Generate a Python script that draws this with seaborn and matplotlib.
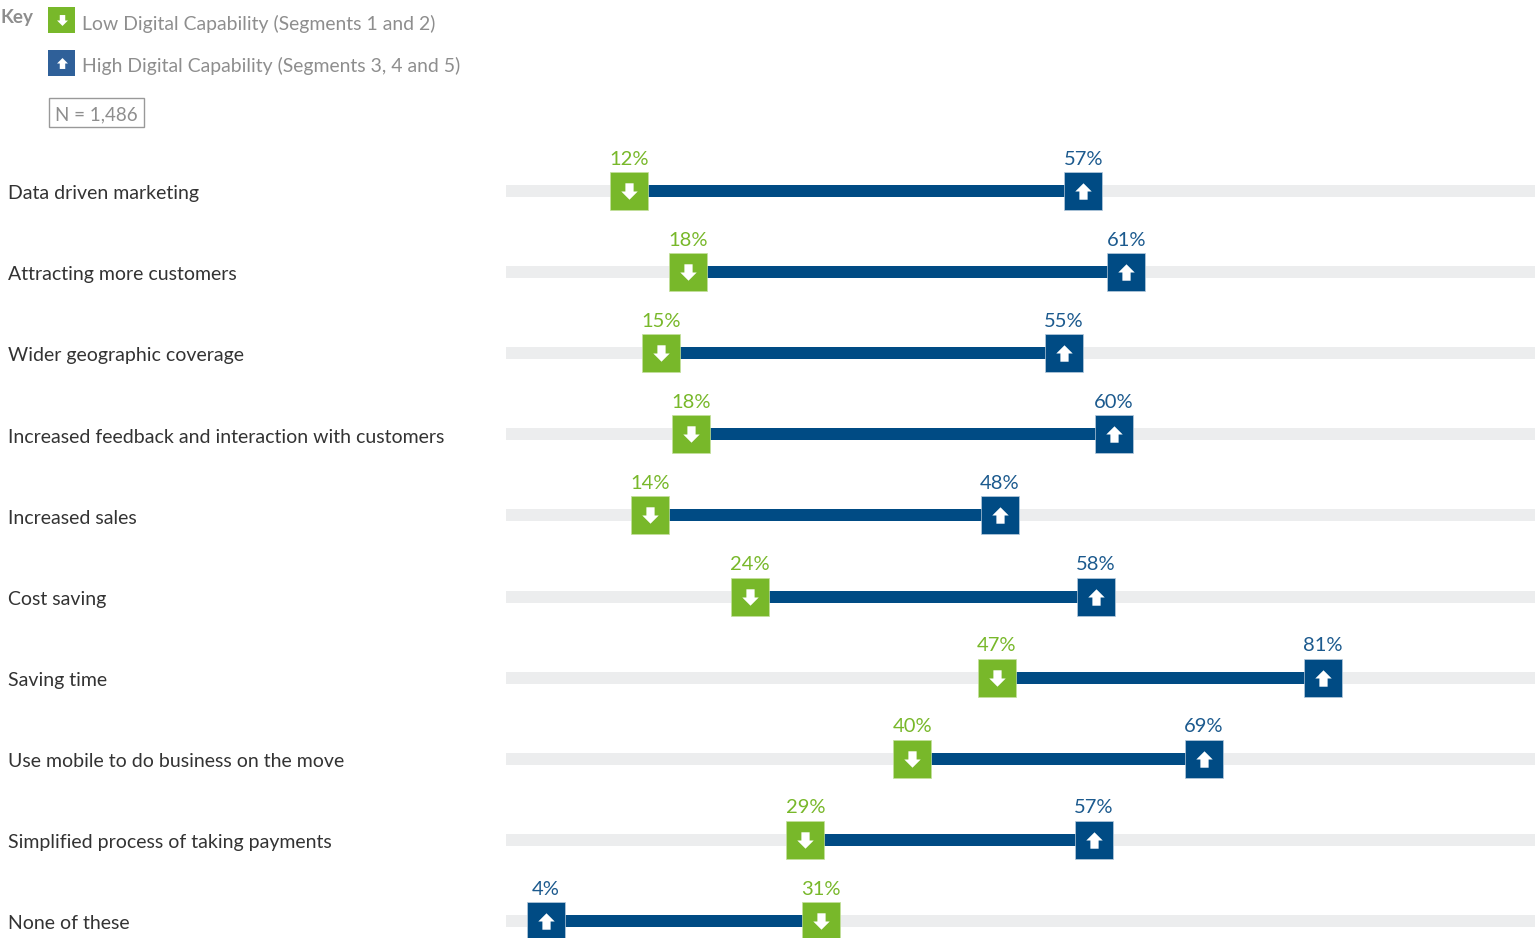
import matplotlib
matplotlib.use("Agg")
import matplotlib.pyplot as plt
import numpy as np
import pandas as pd
import seaborn as sns
from matplotlib.path import Path
from matplotlib.patches import Rectangle

# Data
categories = [
    "Data driven marketing",
    "Attracting more customers",
    "Wider geographic coverage",
    "Increased feedback and interaction with customers",
    "Increased sales",
    "Cost saving",
    "Saving time",
    "Use mobile to do business on the move",
    "Simplified process of taking payments",
    "None of these",
]
# the drawn positions do not sit on one exact scale, so they are kept apart from the printed labels
low_values = [12.0, 17.7, 15.1, 18.0, 14.0, 23.7, 47.7, 39.5, 29.1, 30.6]
high_values = [56.1, 60.3, 54.2, 59.1, 48.0, 57.3, 79.4, 67.8, 57.1, 3.9]
low_labels = ["12%", "18%", "15%", "18%", "14%", "24%", "47%", "40%", "29%", "31%"]
high_labels = ["57%", "61%", "55%", "60%", "48%", "58%", "81%", "69%", "57%", "4%"]
key_labels = ["Low Digital Capability (Segments 1 and 2)", "High Digital Capability (Segments 3, 4 and 5)"]
sample_label = "N = 1,486"

GREEN = "#78B82A"
NAVY = "#004B84"
TRACK = "#ECEDEE"
KEY_BLUE = "#2F6099"
GREY = "#8E8E8E"
TEXT = "#333333"

sns.set_style("white")
plt.rcParams["font.family"] = ["Lato", "DejaVu Sans"]

df = pd.DataFrame({"category": categories, "low": low_values, "high": high_values})
df["left"] = df[["low", "high"]].min(axis=1)
df["right"] = df[["low", "high"]].max(axis=1)
df["track"] = 100

fig = plt.figure(figsize=(15.35, 9.38), dpi=100)
ax = fig.add_axes([0, 0, 1, 1])

# track, then the navy span, then the track again up to the left end
sns.barplot(data=df, x="track", y="category", color=TRACK, saturation=1, width=0.148, linewidth=0, ax=ax)
sns.barplot(data=df, x="right", y="category", color=NAVY, saturation=1, width=0.148, linewidth=0, ax=ax)
sns.barplot(data=df, x="left", y="category", color=TRACK, saturation=1, width=0.148, linewidth=0, ax=ax)

# Arrow shapes for the markers
up_arrow = Path([(0, 1), (1, 0), (0.5, 0), (0.5, -1), (-0.5, -1), (-0.5, 0), (-1, 0), (0, 1)], closed=True)
down_arrow = Path([(0, -1), (1, 0), (0.5, 0), (0.5, 1), (-0.5, 1), (-0.5, 0), (-1, 0), (0, -1)], closed=True)

sns.scatterplot(data=df, x="low", y="category", marker="s", s=740, color=GREEN, edgecolor="#C4E09E",
                linewidth=0.5, zorder=5, ax=ax)
sns.scatterplot(data=df, x="high", y="category", marker="s", s=740, color=NAVY, edgecolor="#B8CCDD",
                linewidth=0.5, zorder=5, ax=ax)
sns.scatterplot(data=df, x="low", y="category", marker=down_arrow, s=140, color="white", linewidth=0,
                zorder=6, ax=ax)
sns.scatterplot(data=df, x="high", y="category", marker=up_arrow, s=140, color="white", linewidth=0,
                zorder=6, ax=ax)

# 0 sits at pixel 506 and 100 at the right edge; rows start at y 191 with 81.11 px spacing
ax.set_xlim(-506 / 10.29, 100)
ax.set_ylim((938 - 191) / 81.11, -191 / 81.11)
ax.axis("off")

for i, cat in enumerate(categories):
    ax.annotate(low_labels[i], (low_values[i], i), xytext=(0, 23), textcoords="offset points",
                ha="center", va="center", color=GREEN, fontsize=14.5, zorder=7)
    ax.annotate(high_labels[i], (high_values[i], i), xytext=(0, 23), textcoords="offset points",
                ha="center", va="center", color="#1C5A8E", fontsize=14.5, zorder=7)
    ax.annotate(cat, (-506 / 10.29, i), xytext=(5.8, -2), textcoords="offset points",
                ha="left", va="center", color=TEXT, fontsize=14.05)

# Key in pixel coordinates
key = fig.add_axes([0, 0, 1, 1], facecolor="none")
key.set_xlim(0, 1535)
key.set_ylim(938, 0)
key.axis("off")

key.text(0, 17, "Key", color=GREY, fontsize=13.6, fontweight="bold", va="center")
key.add_patch(Rectangle((48, 7), 27, 26, facecolor=GREEN, edgecolor="none"))
key.add_patch(Rectangle((48, 50), 27, 26, facecolor=KEY_BLUE, edgecolor="none"))
key.scatter([61.5], [20], marker=down_arrow, s=62, color="white", linewidths=0)
key.scatter([61.5], [63], marker=up_arrow, s=62, color="white", linewidths=0)
key.text(82, 24, key_labels[0], color=GREY, fontsize=13.95, va="center")
key.text(82, 66, key_labels[1], color=GREY, fontsize=13.95, va="center")
key.add_patch(Rectangle((49, 98), 95, 29, facecolor="white", edgecolor="#999999", linewidth=1))
key.text(55, 115, sample_label, color=GREY, fontsize=13.5, va="center")

fig.savefig("out.png", dpi=100)
plt.close(fig)
